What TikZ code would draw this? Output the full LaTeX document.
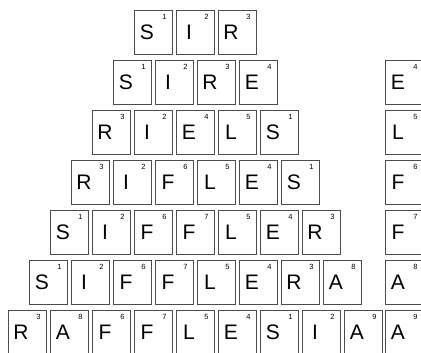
\documentclass[tikz,border=0pt]{standalone}
\usepackage{fontspec}
\setmainfont{Liberation Sans}
\tikzset{
  tile/.style={draw=black!70, line width=0.9pt, fill=white, minimum width=38pt, minimum height=44pt,
    inner sep=0pt, font=\fontsize{21}{21}\selectfont, execute at end node={\kern12pt}},
  num/.style={anchor=center, inner sep=0pt, xshift=-8pt, yshift=-7pt, font=\fontsize{7.5}{7.5}\selectfont}
}

\begin{document}
\begin{tikzpicture}[x=1pt, y=-1pt]
\useasboundingbox (0,0) rectangle (421,353);
% SIR
\begin{scope}[shift={(153,32)}]
\node[tile, label={[num]north east:1}] (t11) at (0,0) {S};
\node[tile, label={[num]north east:2}] (t12) at (42,0) {I};
\node[tile, label={[num]north east:3}] (t13) at (84,0) {R};
\end{scope}
% SIRE
\begin{scope}[shift={(132,82)}]
\node[tile, label={[num]north east:1}] (t21) at (0,0) {S};
\node[tile, label={[num]north east:2}] (t22) at (42,0) {I};
\node[tile, label={[num]north east:3}] (t23) at (84,0) {R};
\node[tile, label={[num]north east:4}] (t24) at (126,0) {E};
\end{scope}
% RIELS
\begin{scope}[shift={(111,132)}]
\node[tile, label={[num]north east:3}] (t31) at (0,0) {R};
\node[tile, label={[num]north east:2}] (t32) at (42,0) {I};
\node[tile, label={[num]north east:4}] (t33) at (84,0) {E};
\node[tile, label={[num]north east:5}] (t34) at (126,0) {L};
\node[tile, label={[num]north east:1}] (t35) at (168,0) {S};
\end{scope}
% RIFLES
\begin{scope}[shift={(90,182)}]
\node[tile, label={[num]north east:3}] (t41) at (0,0) {R};
\node[tile, label={[num]north east:2}] (t42) at (42,0) {I};
\node[tile, label={[num]north east:6}] (t43) at (84,0) {F};
\node[tile, label={[num]north east:5}] (t44) at (126,0) {L};
\node[tile, label={[num]north east:4}] (t45) at (168,0) {E};
\node[tile, label={[num]north east:1}] (t46) at (210,0) {S};
\end{scope}
% SIFFLER
\begin{scope}[shift={(69,232)}]
\node[tile, label={[num]north east:1}] (t51) at (0,0) {S};
\node[tile, label={[num]north east:2}] (t52) at (42,0) {I};
\node[tile, label={[num]north east:6}] (t53) at (84,0) {F};
\node[tile, label={[num]north east:7}] (t54) at (126,0) {F};
\node[tile, label={[num]north east:5}] (t55) at (168,0) {L};
\node[tile, label={[num]north east:4}] (t56) at (210,0) {E};
\node[tile, label={[num]north east:3}] (t57) at (252,0) {R};
\end{scope}
% SIFFLERA
\begin{scope}[shift={(48,282)}]
\node[tile, label={[num]north east:1}] (t61) at (0,0) {S};
\node[tile, label={[num]north east:2}] (t62) at (42,0) {I};
\node[tile, label={[num]north east:6}] (t63) at (84,0) {F};
\node[tile, label={[num]north east:7}] (t64) at (126,0) {F};
\node[tile, label={[num]north east:5}] (t65) at (168,0) {L};
\node[tile, label={[num]north east:4}] (t66) at (210,0) {E};
\node[tile, label={[num]north east:3}] (t67) at (252,0) {R};
\node[tile, label={[num]north east:8}] (t68) at (294,0) {A};
\end{scope}
% RAFFLESIA
\begin{scope}[shift={(27,332)}]
\node[tile, label={[num]north east:3}] (t71) at (0,0) {R};
\node[tile, label={[num]north east:8}] (t72) at (42,0) {A};
\node[tile, label={[num]north east:6}] (t73) at (84,0) {F};
\node[tile, label={[num]north east:7}] (t74) at (126,0) {F};
\node[tile, label={[num]north east:5}] (t75) at (168,0) {L};
\node[tile, label={[num]north east:4}] (t76) at (210,0) {E};
\node[tile, label={[num]north east:1}] (t77) at (252,0) {S};
\node[tile, label={[num]north east:2}] (t78) at (294,0) {I};
\node[tile, label={[num]north east:9}] (t79) at (336,0) {A};
\end{scope}
% new letters
\begin{scope}[shift={(404,82)}]
\node[tile, label={[num]north east:4}] (c2) at (0,0) {E};
\node[tile, label={[num]north east:5}] (c3) at (0,50) {L};
\node[tile, label={[num]north east:6}] (c4) at (0,100) {F};
\node[tile, label={[num]north east:7}] (c5) at (0,150) {F};
\node[tile, label={[num]north east:8}] (c6) at (0,200) {A};
\node[tile, label={[num]north east:9}] (c7) at (0,250) {A};
\end{scope}
\end{tikzpicture}
\end{document}
